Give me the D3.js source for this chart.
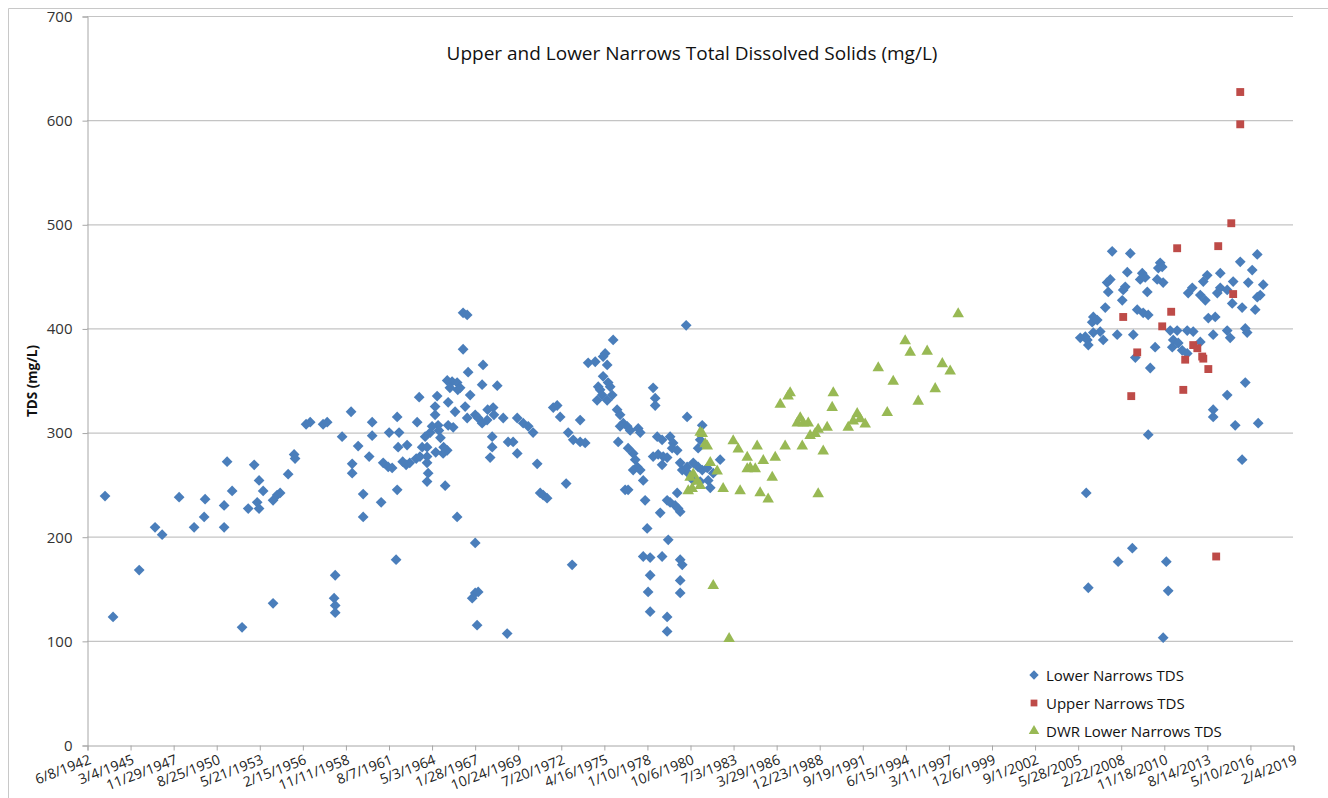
<!DOCTYPE html>
<html>
<head>
<meta charset="utf-8">
<script src="https://cdn.jsdelivr.net/npm/d3@7"></script>
<style>
  body { margin: 0; background: #fff; }
  svg { display: block; font-family: "Open Sans", "Noto Sans", sans-serif; }
</style>
</head>
<body>
<svg id="chart" width="1328" height="798"></svg>
<script>
// tick labels on the date axis (every 1000 days)
var tickLabels = ['6/8/1942', '3/4/1945', '11/29/1947', '8/25/1950', '5/21/1953', '2/15/1956',
  '11/11/1958', '8/7/1961', '5/3/1964', '1/28/1967', '10/24/1969', '7/20/1972', '4/16/1975',
  '1/10/1978', '10/6/1980', '7/3/1983', '3/29/1986', '12/23/1988', '9/19/1991', '6/15/1994',
  '3/11/1997', '12/6/1999', '9/1/2002', '5/28/2005', '2/22/2008', '11/18/2010', '8/14/2013',
  '5/10/2016', '2/4/2019'];
var yTicks = [0, 100, 200, 300, 400, 500, 600, 700];

var seriesNames = ['Lower Narrows TDS', 'Upper Narrows TDS', 'DWR Lower Narrows TDS'];

// [decimal year, TDS mg/L]
var lowerNarrows = [
  [1943.58,239],[1944.09,123],[1945.75,168],[1946.76,209],[1947.21,202],[1948.29,238],[1949.24,209],
  [1949.88,219],[1949.94,236],[1951.15,209],[1951.15,230],[1951.34,272],[1951.66,244],[1952.29,113],
  [1952.68,227],[1953.06,269],[1953.37,254],[1953.25,233],[1953.37,227],[1953.63,244],[1954.26,136],
  [1954.26,235],[1954.52,240],[1954.71,242],[1955.22,260],[1955.60,279],[1955.66,275],[1956.36,308],
  [1956.62,310],[1957.44,308],[1957.70,310],[1958.21,163],[1958.14,141],[1958.21,134],[1958.21,127],
  [1958.65,296],[1959.22,320],[1959.67,287],[1959.29,270],[1959.29,261],[1959.99,241],[1959.99,219],
  [1960.56,310],[1960.56,297],[1960.37,277],[1961.13,233],[1961.26,271],[1961.58,267],[1961.83,266],
  [1961.64,300],[1962.15,315],[1962.27,300],[1962.21,286],[1962.15,245],[1962.08,178],[1962.78,288],
  [1962.72,269],[1963.42,310],[1963.55,334],[1963.36,275],[1963.74,286],[1963.93,296],[1964.05,286],
  [1964.05,277],[1964.05,271],[1964.12,261],[1964.05,253],[1964.25,300],[1964.37,306],[1964.56,325],
  [1964.56,317],[1964.69,335],[1964.75,307],[1965.07,280],[1965.33,283],[1965.20,249],[1965.39,329],
  [1965.39,307],[1965.71,305],[1965.96,219],[1965.83,320],[1965.33,350],[1965.64,349],[1965.96,348],
  [1966.15,343],[1966.34,415],[1966.60,413],[1966.34,380],[1966.66,358],[1966.79,336],[1966.47,325],
  [1966.60,314],[1967.11,317],[1967.30,314],[1967.61,365],[1967.55,346],[1967.55,309],[1967.87,312],
  [1968.51,345],[1968.25,324],[1968.89,314],[1968.19,296],[1968.19,286],[1968.06,276],[1967.11,194],
  [1966.92,141],[1967.11,146],[1967.30,147],[1967.23,115],[1969.14,107],[1969.20,291],
  [1964.80,302],[1964.90,295],[1965.10,286],[1964.60,281],[1963.60,277],[1962.95,271],[1962.50,272],
  [1966.00,341],[1965.50,343],[1967.90,322],[1968.30,317],
  [1969.78,314],[1970.16,309],[1970.48,306],[1970.79,300],[1969.52,291],[1969.78,280],[1971.05,270],
  [1971.24,242],[1971.43,240],[1971.68,237],[1972.07,324],[1972.32,326],[1972.51,315],[1972.89,251],
  [1973.27,173],[1973.02,300],[1973.34,293],[1973.78,291],[1974.10,290],[1973.78,312],[1974.29,367],
  [1974.74,368],[1975.24,373],[1975.37,376],[1975.50,365],[1975.24,354],[1975.56,348],[1974.93,344],
  [1975.69,344],[1975.05,341],[1975.18,336],[1975.82,336],[1974.86,331],[1975.50,331],[1975.88,389],
  [1976.13,322],[1976.32,317],[1976.52,309],[1976.77,306],[1976.32,306],[1976.96,302],[1976.20,291],
  [1977.47,304],[1977.60,300],[1976.83,285],[1977.15,280],[1977.28,274],[1977.41,267],[1977.15,264],
  [1977.60,264],[1977.79,254],[1976.64,245],[1976.83,245],[1977.91,235],[1978.04,208],[1978.42,343],
  [1978.55,333],[1978.55,326],[1978.68,296],[1978.99,293],[1978.42,277],[1978.74,279],[1979.06,277],
  [1979.31,276],[1978.99,269],[1979.50,296],[1979.69,290],[1979.63,285],[1979.95,283],[1979.31,235],
  [1979.50,233],[1979.82,230],[1980.01,227],[1980.14,224],[1978.87,223],[1979.95,242],[1979.38,197],
  [1980.58,315],[1980.52,403],[1980.14,271],[1980.27,264],[1980.58,267],[1980.65,261],[1980.97,271],
  [1981.28,267],[1981.54,264],[1980.97,254],[1981.41,253],[1981.92,254],[1982.05,247],[1981.86,266],
  [1982.24,261],[1982.68,274],[1981.54,307],[1981.28,285],[1981.41,293],[1977.79,181],[1978.23,180],
  [1978.99,181],[1980.14,178],[1980.27,173],[1980.14,158],[1980.14,146],[1978.23,163],[1978.10,147],
  [1978.23,128],[1979.31,123],[1979.31,109],
  [2005.57,391],[2005.89,392],[2006.02,389],[2006.08,384],[2006.33,406],[2006.40,411],[2006.40,396],
  [2006.65,408],[2006.84,397],[2007.03,389],[2007.16,420],[2007.28,444],[2007.35,435],[2007.48,447],
  [2007.60,474],[2007.92,394],[2008.24,427],[2008.30,437],[2008.43,440],[2008.56,454],[2008.75,472],
  [2008.94,394],[2009.07,372],[2009.19,418],[2009.38,447],[2009.51,453],[2009.57,415],[2009.70,449],
  [2009.83,435],[2009.89,413],[2010.02,362],[2010.33,382],[2010.46,447],[2010.53,458],[2010.65,463],
  [2010.78,459],[2010.84,444],[2011.29,398],[2011.42,382],[2011.48,389],[2011.73,398],[2011.80,386],
  [2012.05,379],[2012.37,398],[2012.37,376],[2012.43,434],[2012.69,439],[2012.75,397],[2013.20,432],
  [2013.20,387],[2013.39,445],[2013.52,427],[2013.64,451],[2013.71,410],[2014.02,394],[2014.02,322],
  [2014.02,315],[2014.15,411],[2014.28,434],[2014.47,453],[2014.47,439],[2014.91,437],[2014.91,398],
  [2014.91,336],[2015.10,391],[2015.23,424],[2015.29,445],[2015.42,307],[2015.74,464],[2015.86,420],
  [2015.86,274],[2016.06,400],[2016.06,348],[2016.18,396],[2016.25,444],[2016.50,456],[2016.69,418],
  [2016.82,471],[2016.82,430],[2016.88,309],[2017.01,432],[2017.20,442],
  [2009.89,298],[2005.95,242],[2008.88,189],[2007.98,176],[2011.04,176],[2006.08,151],[2011.16,148],
  [2010.84,103]
];

var upperNarrows = [
  [2008.30,411],[2008.81,335],[2009.19,377],[2010.78,402],[2011.35,416],[2011.73,477],[2012.12,341],
  [2012.24,370],[2012.75,384],[2013.01,381],[2013.32,373],[2013.39,371],[2013.71,361],[2014.21,181],
  [2014.34,479],[2015.17,501],[2015.29,433],[2015.74,627],[2015.74,596]
];

var dwrLowerNarrows = [
  [1980.65,245],[1980.77,258],[1980.90,247],[1980.97,261],[1981.22,254],[1981.41,250],[1981.41,301],
  [1981.54,300],[1981.73,290],[1981.86,288],[1982.05,272],[1982.24,154],[1982.49,264],[1982.87,247],
  [1983.25,103],[1983.51,293],[1983.83,285],[1983.95,245],[1984.40,277],[1984.59,267],[1984.40,266],
  [1984.91,266],[1985.03,288],[1985.42,274],[1985.22,243],[1985.73,237],[1985.99,258],[1986.18,277],
  [1986.50,328],[1986.81,288],[1987.00,336],[1987.13,339],[1987.58,310],[1987.77,315],[1987.96,310],
  [1988.28,310],[1987.90,288],[1988.40,298],[1988.72,300],[1988.91,304],[1989.48,306],[1989.23,283],
  [1988.91,242],[1989.87,339],[1989.80,325],[1990.82,306],[1991.14,312],[1991.39,319],[1991.58,314],
  [1991.90,309],[1992.73,363],[1993.30,320],[1993.68,350],[1994.44,389],[1994.76,378],[1995.84,379],
  [1995.27,331],[1996.35,343],[1996.80,367],[1997.30,360],[1997.81,415]
];

var colors = ['#4a7ebb', '#be4b48', '#98b954'];

var parseTick = d3.utcParse('%m/%d/%Y');
var tickDates = tickLabels.map(parseTick);

function yearToDate(yv) {
  var yr = Math.floor(yv);
  var a = Date.UTC(yr, 0, 1), b = Date.UTC(yr + 1, 0, 1);
  return new Date(a + (yv - yr) * (b - a));
}

var svg = d3.select('#chart');

// outer chart frame
svg.append('path')
  .attr('d', 'M8.5,798 V8.5 H1328')
  .attr('fill', 'none')
  .attr('stroke', '#c8c8c8');

var plotLeft = 87, plotRight = 1293, plotTop = 16, plotBottom = 745;

var x = d3.scaleUtc()
  .domain([tickDates[0], tickDates[tickDates.length - 1]])
  .range([plotLeft, plotRight]);
var y = d3.scaleLinear().domain([0, 700]).range([plotBottom, plotTop]);

// gridlines
svg.append('g')
  .selectAll('line')
  .data(yTicks.filter(function(d) { return d > 0; }))
  .enter().append('line')
  .attr('x1', plotLeft).attr('x2', plotRight)
  .attr('y1', function(d) { return y(d) + 0.5; })
  .attr('y2', function(d) { return y(d) + 0.5; })
  .attr('stroke', '#c4c4c4')
  .attr('stroke-width', 1.2);

// y axis
var yAxis = svg.append('g')
  .attr('transform', 'translate(' + (plotLeft + 0.5) + ',0.5)')
  .call(d3.axisLeft(y).tickValues(yTicks).tickSize(5).tickPadding(10));
yAxis.select('.domain').attr('stroke', '#a6a6a6');
yAxis.selectAll('.tick line').attr('stroke', '#a6a6a6');
yAxis.selectAll('.tick text')
  .attr('font-size', 15)
  .attr('fill', '#333')
  .attr('font-family', '"Open Sans", sans-serif');

// x axis
var xAxis = svg.append('g')
  .attr('transform', 'translate(0.5,' + (plotBottom + 0.5) + ')')
  .call(d3.axisBottom(x).tickValues(tickDates).tickSize(5)
    .tickFormat(function(d, i) { return tickLabels[i]; }));
xAxis.select('.domain').attr('stroke', '#a6a6a6');
xAxis.selectAll('.tick line').attr('stroke', '#a6a6a6');
xAxis.selectAll('.tick text')
  .attr('font-size', 14)
  .attr('fill', '#222')
  .attr('font-family', '"Open Sans", sans-serif')
  .attr('text-anchor', 'end')
  .attr('dy', null)
  .attr('y', 0)
  .attr('transform', 'translate(4,18) rotate(-21)');

// markers
var diamond = d3.symbol().type(d3.symbolSquare).size(58)();
var square = d3.symbol().type(d3.symbolSquare).size(62)();
var triangle = d3.symbol().type(d3.symbolTriangle).size(58)();

svg.append('g')
  .selectAll('path')
  .data(lowerNarrows)
  .enter().append('path')
  .attr('d', diamond)
  .attr('transform', function(d) {
    return 'translate(' + x(yearToDate(d[0])) + ',' + y(d[1]) + ') rotate(45)';
  })
  .attr('fill', colors[0]);

svg.append('g')
  .selectAll('path')
  .data(upperNarrows)
  .enter().append('path')
  .attr('d', square)
  .attr('transform', function(d) {
    return 'translate(' + x(yearToDate(d[0])) + ',' + y(d[1]) + ')';
  })
  .attr('fill', colors[1]);

svg.append('g')
  .selectAll('path')
  .data(dwrLowerNarrows)
  .enter().append('path')
  .attr('d', triangle)
  .attr('transform', function(d) {
    return 'translate(' + x(yearToDate(d[0])) + ',' + (y(d[1]) + 1) + ')';
  })
  .attr('fill', colors[2]);

// title
svg.append('text')
  .attr('x', 692)
  .attr('y', 60)
  .attr('text-anchor', 'middle')
  .attr('font-size', 19)
  .attr('fill', '#111')
  .text('Upper and Lower Narrows Total Dissolved Solids (mg/L)');

// y axis title
svg.append('text')
  .attr('transform', 'translate(37,381) rotate(-90)')
  .attr('text-anchor', 'middle')
  .attr('font-size', 13.5)
  .attr('font-weight', 'bold')
  .attr('fill', '#111')
  .text('TDS (mg/L)');

// legend
var legend = svg.append('g').attr('transform', 'translate(1034,675)');
var legendShapes = [
  { d: d3.symbol().type(d3.symbolSquare).size(44)(), rot: 45 },
  { d: d3.symbol().type(d3.symbolSquare).size(46)(), rot: 0 },
  { d: d3.symbol().type(d3.symbolTriangle).size(48)(), rot: 0 }
];
seriesNames.forEach(function(name, i) {
  var row = legend.append('g').attr('transform', 'translate(0,' + (i * 28) + ')');
  row.append('path')
    .attr('d', legendShapes[i].d)
    .attr('transform', 'rotate(' + legendShapes[i].rot + ')')
    .attr('fill', colors[i]);
  row.append('text')
    .attr('x', 12)
    .attr('y', 5.5)
    .attr('font-size', 15)
    .attr('fill', '#111')
    .text(name);
});
</script>
</body>
</html>
